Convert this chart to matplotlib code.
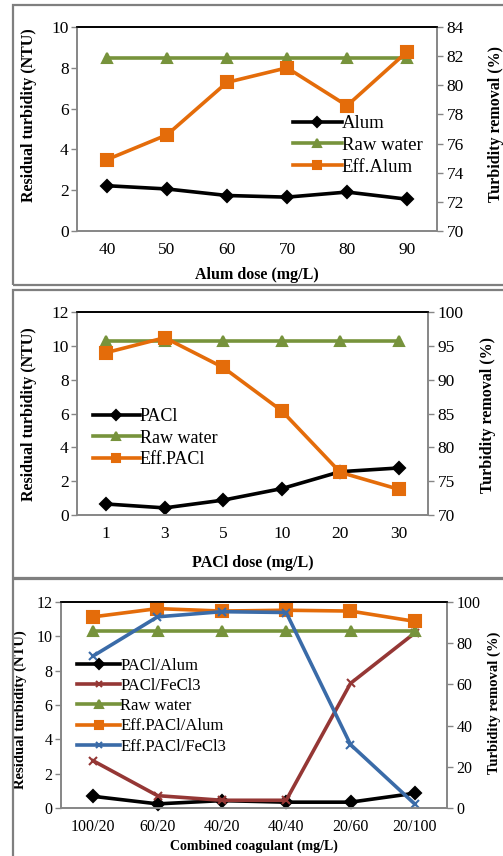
import matplotlib
matplotlib.use("Agg")
import numpy as np
from matplotlib import pyplot as plt
from matplotlib.patches import Rectangle

plt.rcParams["font.family"] = ["Liberation Serif", "DejaVu Serif"]

# panel 1 - alum
alum_dose = ["40", "50", "60", "70", "80", "90"]
alum_resid = [2.22, 2.06, 1.74, 1.66, 1.91, 1.56]
alum_raw = [8.5, 8.5, 8.5, 8.5, 8.5, 8.5]
alum_eff = [74.9, 76.6, 80.2, 81.2, 78.6, 82.3]

# panel 2 - PACl
pacl_dose = ["1", "3", "5", "10", "20", "30"]
pacl_resid = [0.65, 0.42, 0.88, 1.56, 2.56, 2.78]
pacl_raw = [10.3, 10.3, 10.3, 10.3, 10.3, 10.3]
pacl_eff = [94.0, 96.2, 91.8, 85.4, 76.3, 73.8]

# panel 3 - combined
comb_dose = ["100/20", "60/20", "40/20", "40/40", "20/60", "20/100"]
comb_alum_resid = [0.68, 0.24, 0.43, 0.34, 0.34, 0.86]
comb_fecl_resid = [2.75, 0.72, 0.45, 0.45, 7.26, 10.2]
comb_raw = [10.3, 10.3, 10.3, 10.3, 10.3, 10.3]
comb_alum_eff = [92.8, 96.8, 95.6, 96.0, 95.6, 90.6]
comb_fecl_eff = [73.8, 92.8, 95.3, 94.9, 30.8, 1.9]

BLACK = "#000000"
GREEN = "#77933C"
ORANGE = "#E46C0A"
RED = "#953735"
BLUE = "#3A6BA8"
GRAY = "#868686"

W, H = 503, 856
fig = plt.figure(figsize=(W / 100, H / 100), dpi=100)


def rect(x0, y0, x1, y1):
    return [x0 / W, 1 - y1 / H, (x1 - x0) / W, (y1 - y0) / H]


# panel frames
for y0, y1 in [(5, 285), (290, 578), (579, 870)]:
    fig.patches.append(Rectangle((13 / W, 1 - y1 / H), (W + 10) / W, (y1 - y0) / H,
                                 transform=fig.transFigure, fill=False,
                                 edgecolor="#7f7f7f", linewidth=1.6))


def style(ax, ax2):
    for a in (ax, ax2):
        for s in ["left", "right", "bottom"]:
            a.spines[s].set_color(GRAY)
            a.spines[s].set_linewidth(1.2)
        a.spines["top"].set_color(BLACK)
        a.spines["top"].set_linewidth(1.2)
        a.tick_params(color=GRAY, length=4, width=1.0)
    ax.tick_params(axis="x", length=0, pad=8)


def panel(box, cats, left_series, right_series, ylim, yticks, rlim, rticks,
          xlabel, fs, lfs, leg_box, ylab, rlab, xlab_y, xlab_fs):
    ax = fig.add_axes(rect(*box))
    ax2 = ax.twinx()
    x = np.arange(len(cats))
    handles = []
    for vals, lab, c, m, ms in left_series:
        h, = ax.plot(x, vals, color=c, lw=2.6, marker=m, ms=ms, mew=1.5,
                     label=lab, clip_on=False)
        handles.append(h)
    for vals, lab, c, m, ms in right_series:
        h, = ax2.plot(x, vals, color=c, lw=2.6, marker=m, ms=ms, mew=1.5,
                      label=lab, clip_on=False)
        handles.append(h)
    ax.set_xlim(-0.5, len(cats) - 0.5)
    ax.set_xticks(x)
    ax.set_xticklabels(cats, fontsize=fs)
    ax.set_ylim(*ylim)
    ax.set_yticks(yticks)
    ax.tick_params(axis="y", labelsize=fs, pad=2)
    ax2.set_ylim(*rlim)
    ax2.set_yticks(rticks)
    ax2.tick_params(axis="y", labelsize=fs, pad=3)
    style(ax, ax2)
    ax.set_ylabel("Residual turbidity (NTU)", fontsize=fs - 1, fontweight="bold")
    ax2.set_ylabel("Turbidity removal (%)", fontsize=fs - 1, fontweight="bold")
    ax.set_xlabel(xlabel, fontsize=xlab_fs, fontweight="bold")
    x0, y0, x1, y1 = box
    ax.yaxis.set_label_coords((ylab[0] - x0) / (x1 - x0), (y1 - ylab[1]) / (y1 - y0))
    ax2.yaxis.set_label_coords((rlab[0] - x0) / (x1 - x0), (y1 - rlab[1]) / (y1 - y0))
    ax.xaxis.set_label_coords(0.5, (y1 - xlab_y) / (y1 - y0))
    lx, ly = leg_box
    ax2.legend(handles=handles, loc="upper left",
               bbox_to_anchor=((lx - x0) / (x1 - x0), (y1 - ly) / (y1 - y0)),
               frameon=False, fontsize=lfs, handlelength=2.6, handletextpad=0.0,
               labelspacing=0.25, borderpad=0, borderaxespad=0, markerscale=0.8)
    return ax, ax2


panel((77, 27, 437, 231), alum_dose,
      [(alum_resid, "Alum", BLACK, "D", 6), (alum_raw, "Raw water", GREEN, "^", 7)],
      [(alum_eff, "Eff.Alum", ORANGE, "s", 8)],
      (0, 10), [0, 2, 4, 6, 8, 10], (70, 84), [70, 72, 74, 76, 78, 80, 82, 84],
      "Alum dose (mg/L)", 12.5, 13.5, (293, 115), (37, 115), (488, 124), 267, 11.5)

panel((77, 312, 428, 515), pacl_dose,
      [(pacl_resid, "PACl", BLACK, "D", 6), (pacl_raw, "Raw water", GREEN, "^", 7)],
      [(pacl_eff, "Eff.PACl", ORANGE, "s", 8)],
      (0, 12), [0, 2, 4, 6, 8, 10, 12], (70, 100), [70, 75, 80, 85, 90, 95, 100],
      "PACl dose (mg/L)", 12.5, 13, (93, 408), (37, 414), (480, 415), 555, 11.5)

panel((61, 602, 447, 808), comb_dose,
      [(comb_alum_resid, "PACl/Alum", BLACK, "D", 6),
       (comb_fecl_resid, "PACl/FeCl3", RED, "x", 6),
       (comb_raw, "Raw water", GREEN, "^", 7)],
      [(comb_alum_eff, "Eff.PACl/Alum", ORANGE, "s", 8),
       (comb_fecl_eff, "Eff.PACl/FeCl3", BLUE, "x", 6)],
      (0, 12), [0, 2, 4, 6, 8, 10, 12], (0, 100), [0, 20, 40, 60, 80, 100],
      "Combined coagulant (mg/L)", 11.5, 12, (77, 658), (27, 710), (488, 703), 840, 10)

fig.savefig("out.png", dpi=100)
